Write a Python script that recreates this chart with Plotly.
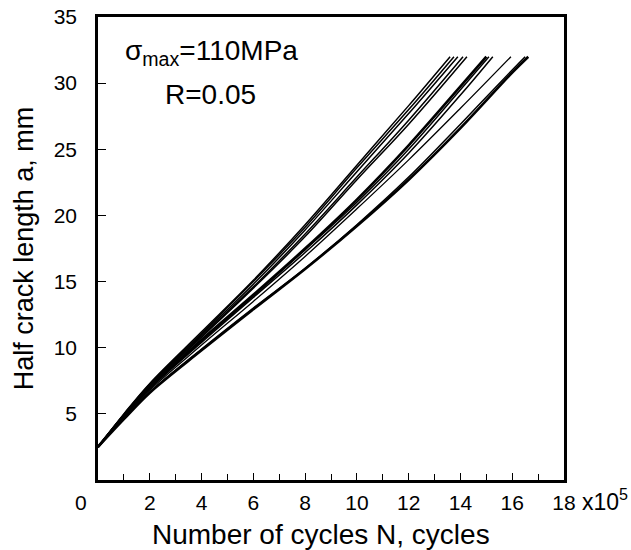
import plotly.graph_objects as go

# Crack growth curves: cycles N (x10^5) and half crack length a (mm)
N_c1 = [0, 1, 2, 4, 6, 8, 10, 12, 13.6]
a_c1 = [2.5, 5.0, 7.3, 11.2, 15.1, 19.3, 23.8, 28.3, 32]
N_c2 = [0, 1, 2, 4, 6, 8, 10, 12, 13.75]
a_c2 = [2.5, 4.95, 7.25, 11.1, 15.0, 19.1, 23.6, 28.0, 32]
N_c3 = [0, 1, 2, 4, 6, 8, 10, 12, 13.9]
a_c3 = [2.5, 4.95, 7.2, 11.0, 14.8, 18.9, 23.3, 27.7, 32]
N_c4 = [0, 1, 2, 4, 6, 8, 10, 12, 14.1]
a_c4 = [2.5, 4.9, 7.15, 10.9, 14.6, 18.6, 22.9, 27.2, 32]
N_c5 = [0, 1, 2, 4, 6, 8, 10, 12, 14.25]
a_c5 = [2.5, 4.9, 7.1, 10.8, 14.5, 18.4, 22.7, 26.9, 32]
N_c6 = [0, 1, 2, 4, 6, 8, 10, 12, 14, 15.0]
a_c6 = [2.5, 4.85, 7.0, 10.6, 14.0, 17.5, 21.2, 25.3, 29.75, 32]
N_c7 = [0, 1, 2, 4, 6, 8, 10, 12, 14, 15.1]
a_c7 = [2.5, 4.8, 6.95, 10.5, 13.9, 17.4, 21.0, 25.0, 29.5, 32]
N_c8 = [0, 1, 2, 4, 6, 8, 10, 12, 14, 15.25]
a_c8 = [2.5, 4.8, 6.9, 10.4, 13.8, 17.2, 20.8, 24.7, 29.1, 32]
N_c9 = [0, 1, 2, 4, 6, 8, 10, 12, 14, 15.95]
a_c9 = [2.5, 4.75, 6.8, 10.2, 13.5, 16.9, 20.5, 24.2, 28.1, 32]
N_c10 = [0, 1, 2, 4, 6, 8, 10, 12, 14, 16, 16.5]
a_c10 = [2.5, 4.65, 6.65, 9.9, 13.0, 16.0, 19.3, 22.9, 26.9, 31.0, 32]
N_c11 = [0, 1, 2, 4, 6, 8, 10, 12, 14, 16, 16.62]
a_c11 = [2.5, 4.6, 6.6, 9.8, 12.9, 15.95, 19.2, 22.7, 26.6, 30.8, 32]

curves = [
    (N_c1, a_c1, 1.5), (N_c2, a_c2, 1.5), (N_c3, a_c3, 1.5), (N_c4, a_c4, 1.5),
    (N_c5, a_c5, 1.5), (N_c6, a_c6, 2.6), (N_c7, a_c7, 1.5), (N_c8, a_c8, 1.5),
    (N_c9, a_c9, 1.3), (N_c10, a_c10, 1.5), (N_c11, a_c11, 2.6),
]

x_ticks = [2, 4, 6, 8, 10, 12, 14, 16, 18]
x_ticktext = ["2", "4", "6", "8", "10", "12", "14", "16", "18"]
y_ticks = [5, 10, 15, 20, 25, 30, 35]
y_ticktext = ["5", "10", "15", "20", "25", "30", "35"]

FONT = "Liberation Sans, Arial, sans-serif"

fig = go.Figure()
for xs, ys, w in curves:
    fig.add_trace(go.Scatter(x=xs, y=ys, mode="lines",
                             line=dict(color="black", width=w, shape="spline", smoothing=1.0),
                             showlegend=False, hoverinfo="skip"))

fig.update_layout(
    template="none",
    width=631, height=550,
    margin=dict(l=98, r=67, t=17, b=70),
    paper_bgcolor="white", plot_bgcolor="white",
    font=dict(family=FONT, color="black", size=20),
    showlegend=False,
)
fig.update_xaxes(
    automargin=False,
    range=[0, 18], tickmode="array", tickvals=x_ticks, ticktext=x_ticktext,
    ticks="inside", ticklen=7, tickwidth=1.2, tickcolor="black",
    minor=dict(ticks="inside", dtick=1, ticklen=6, tickwidth=1.2, tickcolor="black"),
    showline=True, linecolor="black", linewidth=2.5, mirror=True,
    showgrid=False, zeroline=False,
    tickfont=dict(size=21, family=FONT), ticklabelstandoff=2,
)
fig.update_yaxes(
    automargin=False,
    range=[0, 35], tickmode="array", tickvals=y_ticks, ticktext=y_ticktext,
    ticks="inside", ticklen=8, tickwidth=1.2, tickcolor="black",
    showline=True, linecolor="black", linewidth=2.5, mirror=True,
    showgrid=False, zeroline=False,
    tickfont=dict(size=21, family=FONT), ticklabelstandoff=14,
    title=dict(text="Half crack length a, mm", font=dict(size=27, family=FONT), standoff=13),
)

fig.add_annotation(text="Number of cycles N, cycles", xref="paper", x=0.4785, yref="paper", y=0,
                   yshift=-37, yanchor="top", xanchor="center", showarrow=False,
                   font=dict(size=28, family=FONT))
fig.add_annotation(text="0", xref="x", x=0, xshift=-17, yref="paper", y=0, yshift=-9,
                   yanchor="top", xanchor="center", showarrow=False, font=dict(size=21, family=FONT))
fig.add_annotation(text="x10<sup>5</sup>", xref="paper", x=1, xshift=16, yref="paper", y=0, yshift=-3,
                   yanchor="top", xanchor="left", showarrow=False, font=dict(size=23, family=FONT))
fig.add_annotation(text="σ<sub>max</sub>=110MPa", xref="paper", x=0, xshift=25, yref="paper", y=1,
                   yshift=-16, yanchor="top", xanchor="left", showarrow=False,
                   font=dict(size=28, family=FONT))
fig.add_annotation(text="R=0.05", xref="paper", x=0, xshift=65, yref="paper", y=1,
                   yshift=-60, yanchor="top", xanchor="left", showarrow=False,
                   font=dict(size=28, family=FONT))

fig.write_html("out.html")
